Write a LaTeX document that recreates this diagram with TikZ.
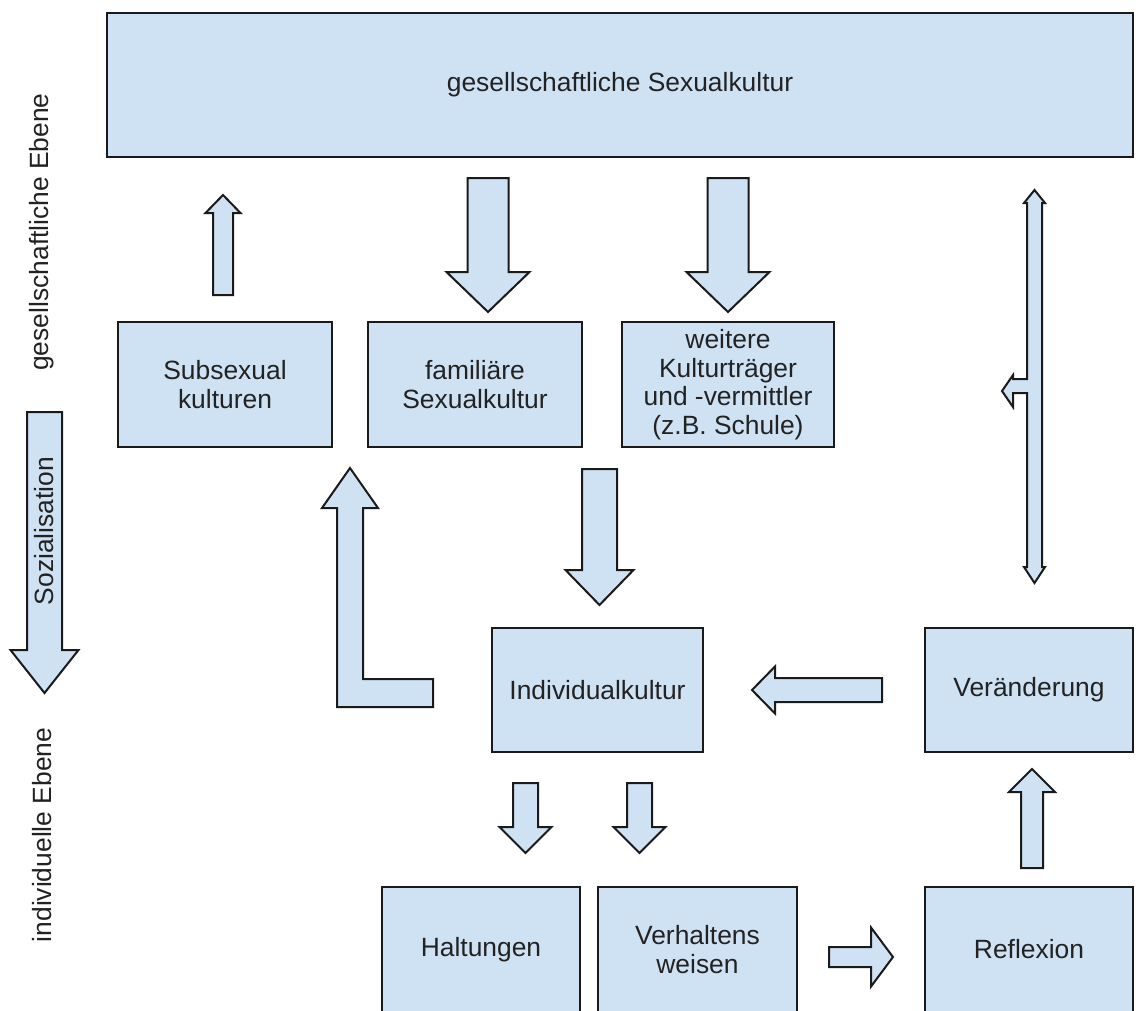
\documentclass[tikz,border=0pt]{standalone}
\usepackage{fontspec}
\setmainfont{Liberation Sans}
\definecolor{boxfill}{HTML}{CFE2F3}
\definecolor{edge}{HTML}{1A1A1A}
\definecolor{ink}{HTML}{222222}
% vertical block arrow: #1 centre x, #2 half shaft, #3 half head, #4 tail y, #5 head base y, #6 tip y
\newcommand\vblk[6]{\draw[blk] ({#1-#2},#4) -- ({#1+#2},#4) -- ({#1+#2},#5) -- ({#1+#3},#5) -- (#1,#6) -- ({#1-#3},#5) -- ({#1-#2},#5) -- cycle;}
% horizontal block arrow: #1 centre y, #2 half shaft, #3 half head, #4 tail x, #5 head base x, #6 tip x
\newcommand\hblk[6]{\draw[blk] (#4,{#1-#2}) -- (#5,{#1-#2}) -- (#5,{#1-#3}) -- (#6,#1) -- (#5,{#1+#3}) -- (#5,{#1+#2}) -- (#4,{#1+#2}) -- cycle;}
\begin{document}
\begin{tikzpicture}[x=1pt,y=-1pt,
  box/.style={draw=edge,fill=boxfill,line width=2pt,inner sep=0pt,align=center,text=ink,font=\fontsize{26.4}{28.5}\selectfont},
  blk/.style={draw=edge,fill=boxfill,line width=2pt,line join=miter},
  lbl/.style={text=ink,font=\fontsize{26.4}{28}\selectfont,rotate=90,inner sep=0pt}]
\useasboundingbox (0,0) rectangle (1143,1010);
\clip (0,0) rectangle (1143,1010);
\fill[white] (0,0) rectangle (1143,1010);

% boxes
\node[box,minimum width=1026pt,minimum height=144pt] (top) at (620,85) {gesellschaftliche Sexualkultur};
\node[box,minimum width=214pt,minimum height=125pt] (sub) at (225,384.5) {Subsexual\\kulturen};
\node[box,minimum width=214pt,minimum height=125pt] (fam) at (475,384.5) {familiäre\\Sexualkultur};
\node[box,minimum width=212pt,minimum height=125pt] (wei) at (728,384.5) {weitere\\Kulturträger\\und -vermittler\\(z.B. Schule)};
\node[box,minimum width=211pt,minimum height=124pt] (ind) at (597.5,690) {Individualkultur};
\node[box,minimum width=208pt,minimum height=124pt] (ver) at (1029,690) {Veränderung};
\node[box,minimum width=198pt,minimum height=125pt] (hal) at (481,949.5) {Haltungen};
\node[box,minimum width=199pt,minimum height=125pt] (vhw) at (697.5,949.5) {Verhaltens\\weisen};
\node[box,minimum width=208pt,minimum height=125pt] (ref) at (1029,949.5) {Reflexion};

% side labels
\node[lbl] (gesE) at (42,232) {gesellschaftliche Ebene};
\node[lbl] (indE) at (42,835) {individuelle Ebene};

% block arrows
\vblk{223}{10}{17.5}{295}{213}{195}
\vblk{488}{20.5}{41.5}{178}{272}{312}
\vblk{728}{20.5}{41.5}{178}{272}{312}
\vblk{599.5}{17.5}{34}{469}{570}{605}
\vblk{44.5}{17.5}{34}{412}{650}{693}
\vblk{525.5}{12.5}{26}{783}{827}{853}
\vblk{639.5}{12.5}{26}{783}{827}{853}
\hblk{690}{12}{23.5}{882}{775}{752}
\hblk{957}{10}{29.5}{829}{871}{893}
\vblk{1032}{11}{23}{868}{792}{769}
\node[lbl] (soz) at (44.5,531) {Sozialisation};

% L-shaped arrow
\draw[blk] (350,468) -- (378,508) -- (363,508) -- (363,679) -- (433,679) -- (433,707)
  -- (337,707) -- (337,508) -- (322,508) -- cycle;

% double arrow with branch
\draw[blk] (1034.5,190) -- (1045,203) -- (1042,203) -- (1042,567) -- (1045,567) -- (1034.5,583)
  -- (1024,567) -- (1027,567) -- (1027,393) -- (1013,393) -- (1013,407) -- (1002,391)
  -- (1013,375) -- (1013,379) -- (1027,379) -- (1027,203) -- (1024,203) -- cycle;
\end{tikzpicture}
\end{document}
